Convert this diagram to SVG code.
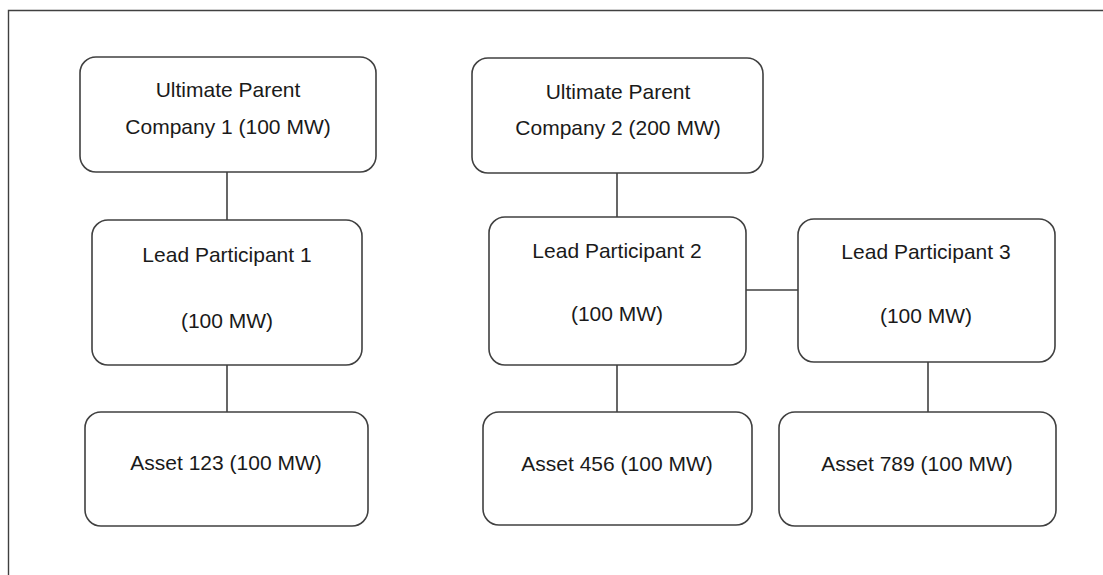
<svg xmlns="http://www.w3.org/2000/svg" width="1103" height="575" viewBox="0 0 1103 575">
<style>
.box{fill:#fff;stroke:#404040;stroke-width:1.6}
.t{font-family:"Liberation Sans",Arial,sans-serif;font-size:21px;fill:#1a1a1a;text-anchor:middle}
.c{stroke:#404040;stroke-width:1.6;fill:none}
</style>
<rect width="1103" height="575" fill="#fff"/>
<path d="M8.5 575 V10.5 H1103" fill="none" stroke="#404040" stroke-width="1.4"/>
<g id="connectors">
<path class="c" d="M227 172 V220"/>
<path class="c" d="M227 365 V412"/>
<path class="c" d="M617 173 V217"/>
<path class="c" d="M617 365 V412"/>
<path class="c" d="M746 290 H798"/>
<path class="c" d="M928 362 V412"/>
</g>
<g id="upc1"><rect class="box" x="80" y="57" width="296" height="115" rx="16"/>
<text class="t" x="228" y="97">Ultimate Parent</text><text class="t" x="228" y="134">Company 1 (100 MW)</text></g>
<g id="lp1"><rect class="box" x="92" y="220" width="270" height="145" rx="16"/>
<text class="t" x="227" y="262">Lead Participant 1</text><text class="t" x="227" y="328">(100 MW)</text></g>
<g id="asset123"><rect class="box" x="85" y="412" width="283" height="114" rx="16"/>
<text class="t" x="226" y="470">Asset 123 (100 MW)</text></g>
<g id="upc2"><rect class="box" x="472" y="58" width="291" height="115" rx="16"/>
<text class="t" x="618" y="99">Ultimate Parent</text><text class="t" x="618" y="135">Company 2 (200 MW)</text></g>
<g id="lp2"><rect class="box" x="489" y="217" width="257" height="148" rx="16"/>
<text class="t" x="617" y="258">Lead Participant 2</text><text class="t" x="617" y="321">(100 MW)</text></g>
<g id="lp3"><rect class="box" x="798" y="219" width="257" height="143" rx="16"/>
<text class="t" x="926" y="259">Lead Participant 3</text><text class="t" x="926" y="323">(100 MW)</text></g>
<g id="asset456"><rect class="box" x="483" y="412" width="269" height="113" rx="16"/>
<text class="t" x="617" y="471">Asset 456 (100 MW)</text></g>
<g id="asset789"><rect class="box" x="779" y="412" width="277" height="114" rx="16"/>
<text class="t" x="917" y="471">Asset 789 (100 MW)</text></g>
</svg>
